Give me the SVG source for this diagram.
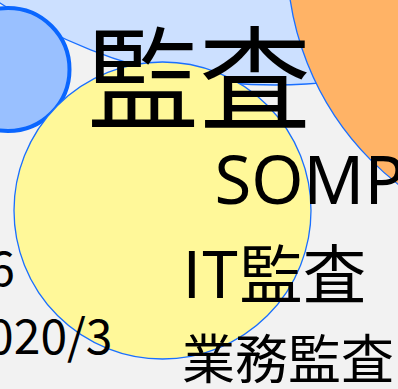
<svg xmlns="http://www.w3.org/2000/svg" width="398" height="389" viewBox="0 0 398 389">
<style>
.thin{stroke:#1a6fff;stroke-width:1.3}
.t{font-family:"Noto Sans CJK JP","Noto Sans",sans-serif;fill:#000}
.lat{font-family:"Noto Sans","Noto Sans CJK JP",sans-serif;fill:#000}
</style>
<rect x="0" y="0" width="398" height="389" fill="#f2f2f2"/>
<g id="bubble-audit">
<circle cx="275" cy="-416" r="501" fill="#cce0ff" class="thin"/>
</g>
<g id="bubble-orange">
<circle cx="575" cy="-43" r="288" fill="#ffb366" class="thin"/>
</g>
<g id="bubble-blue">
<circle cx="8" cy="69.5" r="61.5" fill="#99c0ff" stroke="#0a66ff" stroke-width="4"/>
</g>
<g id="bubble-yellow">
<circle cx="162.5" cy="210.5" r="148.5" fill="#fff899" class="thin"/>
</g>
<g id="labels">
<text class="t" x="199" y="121" font-size="112" text-anchor="middle">監査</text>
<text class="lat" x="214.5" y="203.5" font-size="67">SOMP</text>
<text class="t" x="182.5" y="298" font-size="63.5">IT監査</text>
<text class="t" x="182" y="378.5" font-size="53">業務監査</text>
<text class="t" x="15" y="286" font-size="48" text-anchor="end">6</text>
<text class="t" x="112.5" y="354" font-size="48" text-anchor="end">020/3</text>
</g>
</svg>
